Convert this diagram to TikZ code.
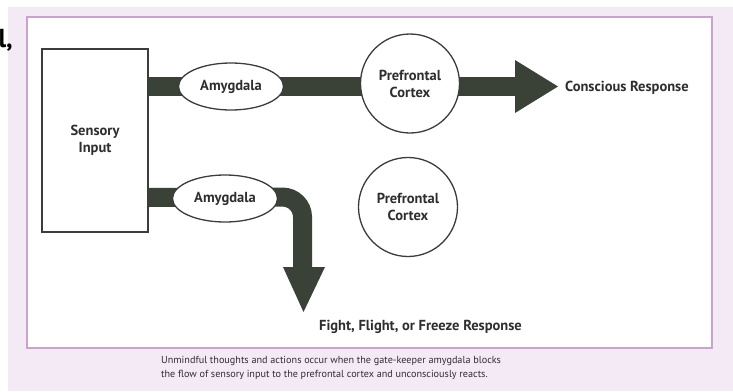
\documentclass[tikz,border=0pt]{standalone}
\usepackage{fontspec}
\setmainfont{PT Sans}
\usetikzlibrary{shapes.geometric}
\definecolor{bar}{HTML}{3A4237}
\definecolor{lav}{HTML}{F4EAF6}
\definecolor{frame}{HTML}{C9A3CB}
\definecolor{ink}{HTML}{2E2E2E}
\definecolor{edge}{HTML}{3C3C3C}
\tikzset{
  lbl/.style={font=\fontsize{14.5}{17}\selectfont\bfseries, text=ink, align=center, inner sep=0pt},
  amy/.style={ellipse, draw=edge, line width=1.3pt, fill=white, minimum width=105pt, minimum height=47pt, lbl},
  pfc/.style={circle, draw=edge, line width=1.3pt, fill=white, minimum size=99pt, lbl},
  barline/.style={line width=19pt, draw=bar},
  head/.style={fill=bar, draw=none},
}
\begin{document}
\begin{tikzpicture}[x=1pt,y=-1pt]
\useasboundingbox (0,0) rectangle (733,391);
\fill[white] (0,0) rectangle (733,391);
\fill[lav] (8,7) rectangle (733,391);
\draw[frame, line width=1.5pt, fill=white] (27,17) rectangle (712,348);
% fragment at left edge
\node[anchor=base east, inner sep=0pt, font=\fontsize{26}{26}\selectfont\bfseries] (frag) at (13,47) {l,};
% nodes
\node[draw=edge, line width=1.3pt, fill=white, minimum width=106pt, minimum height=183pt, lbl] (sens) at (95,140.5) {Sensory\\Input};
\coordinate (topend) at (516,86.5);
\coordinate (bend) at (302.5,197);
\coordinate (botend) at (302.5,268);
% top route
\draw[barline] (sens.east |- 0,86.5) -- (topend);
\fill[head] (515,60) -- (558,86.5) -- (515,113) -- cycle;
% bottom route
\draw[barline, rounded corners=20pt] (sens.east |- 0,197.5) -- (bend) -- (botend);
\fill[head] (283,267) -- (325,267) -- (303.5,312) -- cycle;
\node[amy] (amy1) at (231,86.5) {Amygdala};
\node[pfc] (pfc1) at (410,83.5) {Prefrontal\\Cortex};
\node[amy] (amy2) at (225,198.5) {Amygdala};
\node[pfc] (pfc2) at (408,207) {Prefrontal\\Cortex};
\node[lbl, anchor=west] (cons) at (565,87.5) {Conscious Response};
\node[lbl, anchor=west] (fight) at (319,327) {Fight, Flight, or Freeze Response};
\node[anchor=north west, inner sep=0pt, align=left, text=ink, font=\fontsize{10.2}{14}\selectfont] (cap) at (161,356) {Unmindful thoughts and actions occur when the gate-keeper amygdala blocks\\the flow of sensory input to the prefrontal cortex and unconsciously reacts.};
\end{tikzpicture}
\end{document}
